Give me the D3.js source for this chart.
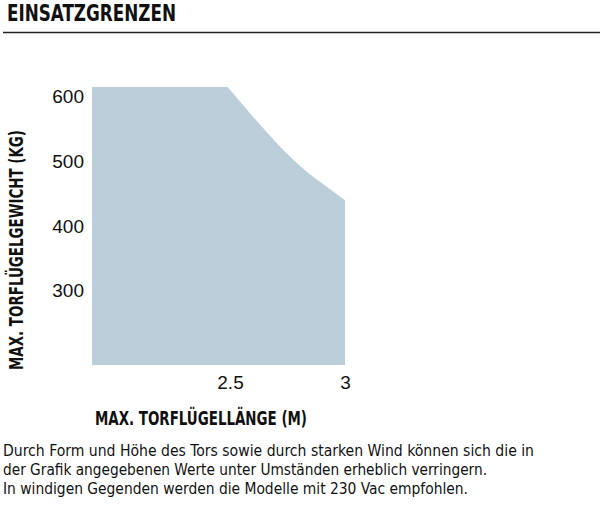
<!DOCTYPE html>
<html lang="de">
<head>
<meta charset="UTF-8">
<title>Einsatzgrenzen</title>
<script src="https://cdn.jsdelivr.net/npm/d3@7"></script>
<style>
	html,body{margin:0;padding:0;background:#fff;}
	svg{display:block;}
	.cond{font-family:"Liberation Sans Narrow","DejaVu Sans Condensed","Roboto",sans-serif;fill:#111;}
	.tick text{font-family:"Liberation Sans",Arial,sans-serif;font-size:19px;fill:#111;}
</style>
</head>
<body>
<svg id="chart" width="600" height="507"></svg>
<script>
// Torflügellänge (m) / max. Gewicht (kg)
var lengths = [1.9, 2.49, 2.55, 2.6, 2.66, 2.72, 2.78, 2.84, 2.9, 2.95, 3.0];
var weights = [615, 615, 590, 569, 545, 522, 501, 482, 466, 453, 440];
var xTicks = [2.5, 3];
var yTicks = [300, 400, 500, 600];

var title = "EINSATZGRENZEN";
var xTitle = "MAX. TORFLÜGELLÄNGE (M)";
var yTitle = "MAX. TORFLÜGELGEWICHT (KG)";
var notes = [
	"Durch Form und Höhe des Tors sowie durch starken Wind können sich die in",
	"der Grafik angegebenen Werte unter Umständen erheblich verringern.",
	"In windigen Gegenden werden die Modelle mit 230 Vac empfohlen."
];

var svg = d3.select("#chart");

var x = d3.scaleLinear().domain([1.9, 3]).range([92, 345]);
var y = d3.scaleLinear().domain([185, 615]).range([365, 87]);

var pts = lengths.map(function(l, i){ return {l: l, w: weights[i]}; });

var area = d3.area()
	.x(function(d){ return x(d.l); })
	.y0(y(185))
	.y1(function(d){ return y(d.w); });

svg.append("path")
	.datum(pts)
	.attr("d", area)
	.attr("fill", "#bdcedb");

// axes without lines
var yAxis = svg.append("g")
	.attr("transform", "translate(" + x(1.9) + ",0)")
	.call(d3.axisLeft(y).tickValues(yTicks).tickSize(0).tickPadding(8));
yAxis.select(".domain").remove();

var xAxis = svg.append("g")
	.attr("transform", "translate(0," + y(185) + ")")
	.call(d3.axisBottom(x).tickValues(xTicks).tickSize(0).tickPadding(11)
		.tickFormat(d3.format("")));
xAxis.select(".domain").remove();

// header
svg.append("text").attr("class", "cond")
	.attr("x", 7).attr("y", 21)
	.attr("font-size", 23).attr("font-weight", "bold")
	.attr("textLength", 169).attr("lengthAdjust", "spacingAndGlyphs")
	.text(title);

svg.append("line")
	.attr("x1", 3).attr("x2", 600)
	.attr("y1", 32.5).attr("y2", 32.5)
	.attr("stroke", "#222").attr("stroke-width", 1.3);

// axis titles
svg.append("text").attr("class", "cond")
	.attr("x", 95).attr("y", 425)
	.attr("font-size", 20).attr("font-weight", "bold")
	.attr("textLength", 212).attr("lengthAdjust", "spacingAndGlyphs")
	.text(xTitle);

svg.append("text").attr("class", "cond")
	.attr("transform", "translate(23,250) rotate(-90)")
	.attr("text-anchor", "middle")
	.attr("font-size", 20).attr("font-weight", "bold")
	.attr("textLength", 240).attr("lengthAdjust", "spacingAndGlyphs")
	.text(yTitle);

// footnote
var noteLen = [531, 484, 465];
svg.selectAll(".note")
	.data(notes)
	.enter().append("text")
	.attr("class", "cond note")
	.attr("x", 3)
	.attr("y", function(d, i){ return 456 + i * 19; })
	.attr("font-size", 16)
	.attr("textLength", function(d, i){ return noteLen[i]; })
	.attr("lengthAdjust", "spacingAndGlyphs")
	.text(function(d){ return d; });
</script>
</body>
</html>
